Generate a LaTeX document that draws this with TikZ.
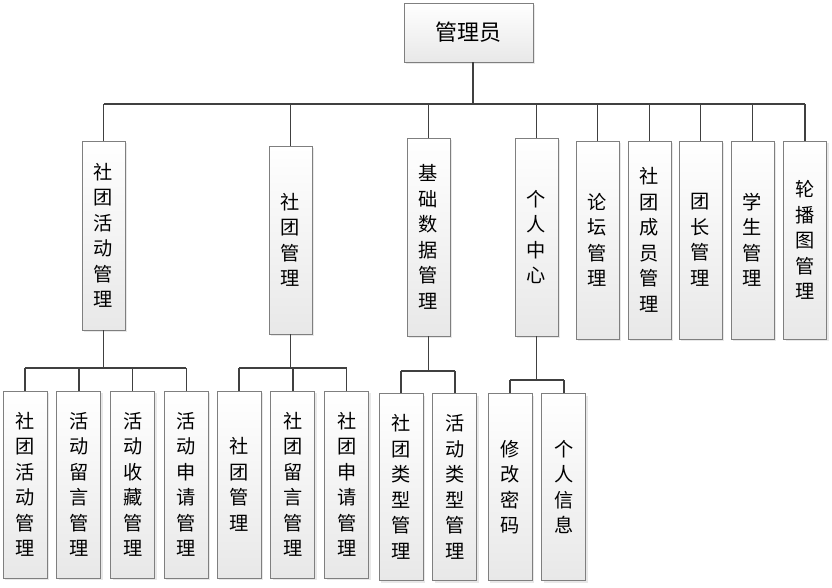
\documentclass[tikz,border=0pt]{standalone}
\usepackage{fontspec}
\newfontfamily\cjk{Noto Sans CJK SC}
\usetikzlibrary{positioning, shadows}
\definecolor{boxedge}{HTML}{7F7F7F}
\definecolor{boxfill}{HTML}{E8E8E8}
\definecolor{linkgray}{HTML}{404040}

\begin{document}
\begin{tikzpicture}[x=1pt, y=-1pt,
          b/.style={draw=boxedge, line width=0.8pt, top color=white, bottom color=boxfill,
            drop shadow={opacity=0.18, shadow xshift=2pt, shadow yshift=-2pt},
            font=\cjk\fontsize{19.2}{25.5}\selectfont, align=center, inner sep=0pt, minimum width=43pt},
          lv/.style={b, minimum height=198pt},
          sub/.style={b, minimum width=44pt, minimum height=187pt},
          lk/.style={draw=linkgray, line width=1.5pt}]
        \useasboundingbox (0,0) rectangle (832,588);
        % top
        \node[b, minimum width=129pt, minimum height=59pt, font=\cjk\fontsize{22}{26}\selectfont] (top) at (468.5,32.5) {管理员};
        % first level
        \node[lv, minimum height=189pt] (a) at (103.5,235.5) {社\\团\\活\\动\\管\\理};
        \node[lv, minimum height=188pt] (b) at (290.5,240) {社\\团\\管\\理};
        \node[lv] (c) at (428.5,237) {基\\础\\数\\据\\管\\理};
        \node[lv] (d) at (536.5,237) {个\\人\\中\\心};
        \node[lv] (e) at (597.5,240) {论\\坛\\管\\理};
        \node[lv] (f) at (649.5,240) {社\\团\\成\\员\\管\\理};
        \node[lv] (g) at (700.5,240) {团\\长\\管\\理};
        \node[lv] (h) at (752.5,240) {学\\生\\管\\理};
        \node[lv] (i) at (805,240) {轮\\播\\图\\管\\理};
        % second level
        \node[sub] (a1) at (25,484.5) {社\\团\\活\\动\\管\\理};
        \node[sub, right=9pt of a1] (a2) {活\\动\\留\\言\\管\\理};
        \node[sub, right=9pt of a2] (a3) {活\\动\\收\\藏\\管\\理};
        \node[sub, right=9pt of a3] (a4) {活\\动\\申\\请\\管\\理};
        \node[sub] (b1) at (239,484.5) {社\\团\\管\\理};
        \node[sub, right=9pt of b1] (b2) {社\\团\\留\\言\\管\\理};
        \node[sub, right=9pt of b2] (b3) {社\\团\\申\\请\\管\\理};
        \node[sub] (c1) at (401,487) {社\\团\\类\\型\\管\\理};
        \node[sub, right=9pt of c1] (c2) {活\\动\\类\\型\\管\\理};
        \node[sub] (d1) at (510,487) {修\\改\\密\\码};
        \node[sub, right=9pt of d1] (d2) {个\\人\\信\\息};
        % links
        \coordinate (bus) at (0,104);
        \draw[lk] ([xshift=4.5pt]top.south) -- ([xshift=4.5pt]top.south |- bus);
        \draw[lk] (a.north |- bus) -- (i.north |- bus);
        \foreach \n in {a,...,i} \draw[lk] (\n.north) -- (\n.north |- bus);
        \coordinate (ya) at (0,368);
        \draw[lk] (a.south) -- (a.south |- ya);
        \draw[lk] (a1.north |- ya) -- (a4.north |- ya);
        \foreach \n in {a1,a2,a3,a4} \draw[lk] (\n.north) -- (\n.north |- ya);
        \coordinate (yb) at (0,368);
        \draw[lk] (b.south) -- (b.south |- yb);
        \draw[lk] (b1.north |- yb) -- (b3.north |- yb);
        \foreach \n in {b1,b2,b3} \draw[lk] (\n.north) -- (\n.north |- yb);
        \coordinate (yc) at (0,371);
        \draw[lk] (c.south) -- (c.south |- yc);
        \draw[lk] (c1.north |- yc) -- (c2.north |- yc);
        \foreach \n in {c1,c2} \draw[lk] (\n.north) -- (\n.north |- yc);
        \coordinate (yd) at (0,380);
        \draw[lk] (d.south) -- (d.south |- yd);
        \draw[lk] (d1.north |- yd) -- (d2.north |- yd);
        \foreach \n in {d1,d2} \draw[lk] (\n.north) -- (\n.north |- yd);
      \end{tikzpicture}
\end{document}
